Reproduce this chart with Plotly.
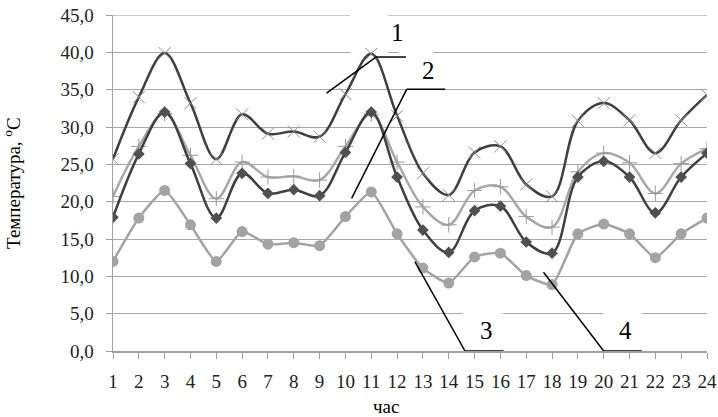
import plotly.graph_objects as go

hours = list(range(1, 25))
hour_labels = [str(h) for h in hours]

# Series 1 (top, x markers)
s1 = [25.7, 34.0, 39.9, 33.2, 25.7, 31.7, 29.1, 29.4, 28.7, 34.4, 39.8, 31.5,
      23.8, 20.9, 26.6, 27.4, 22.3, 20.7, 30.8, 33.2, 30.9, 26.5, 30.9, 34.3]
# Series 2 (light gray, + markers)
s2 = [20.7, 27.4, 31.8, 26.2, 20.4, 25.3, 23.3, 23.4, 22.9, 27.4, 31.7, 25.3,
      19.3, 16.9, 21.5, 22.0, 18.0, 16.6, 24.0, 26.5, 25.2, 21.1, 25.1, 27.1]
# Series 3 (dark, diamond markers)
s3 = [17.9, 26.4, 32.0, 25.1, 17.8, 23.8, 21.1, 21.6, 20.8, 26.6, 32.0, 23.3,
      16.2, 13.2, 18.8, 19.4, 14.6, 13.1, 23.3, 25.4, 23.3, 18.5, 23.3, 26.5]
# Series 4 (light gray, circle markers)
s4 = [12.0, 17.8, 21.5, 16.9, 12.0, 16.0, 14.3, 14.5, 14.1, 18.0, 21.3, 15.7,
      11.1, 9.1, 12.6, 13.1, 10.1, 8.9, 15.7, 17.0, 15.7, 12.5, 15.7, 17.8]

y_ticks = [0, 5, 10, 15, 20, 25, 30, 35, 40, 45]
y_tick_labels = ["0,0", "5,0", "10,0", "15,0", "20,0", "25,0", "30,0", "35,0", "40,0", "45,0"]

series_labels = ["1", "2", "3", "4"]

FONT = "Liberation Serif"
GRID = "#a8a8a8"

fig = go.Figure()

fig.add_trace(go.Scatter(
    x=hours, y=s4, mode="lines+markers",
    line=dict(color="#a3a3a3", width=2.5, shape="spline", smoothing=0.5),
    marker=dict(symbol="circle", size=11, color="#a3a3a3"),
    showlegend=False))
fig.add_trace(go.Scatter(
    x=hours, y=s2, mode="lines+markers",
    line=dict(color="#a8a8a8", width=2.5, shape="spline", smoothing=1),
    marker=dict(symbol="cross-thin", size=11, line=dict(color="#9a9a9a", width=1)),
    showlegend=False))
fig.add_trace(go.Scatter(
    x=hours, y=s3, mode="lines+markers",
    line=dict(color="#3f3f3f", width=2.5, shape="spline", smoothing=1),
    marker=dict(symbol="diamond", size=9, color="#505050"),
    showlegend=False))
fig.add_trace(go.Scatter(
    x=hours, y=s1, mode="lines+markers",
    line=dict(color="#3f3f3f", width=2.5, shape="spline", smoothing=1),
    marker=dict(symbol="x-thin", size=12, line=dict(color="#8c8c8c", width=1)),
    showlegend=False))

# top gridline (plotly omits the grid line at the range end)
fig.add_shape(type="line", xref="paper", x0=0, x1=1, y0=y_ticks[-1], y1=y_ticks[-1],
              line=dict(color="#b4b4b4", width=1.5), layer="between")

# white text boxes covering gridlines
boxes = [(10.18, 11.65, 39.2, 45.6), (12.07, 13.39, 35.6, 40.4),
         (14.55, 16.1, 0.8, 6.8), (19.98, 21.48, 0.8, 6.8)]
for x0, x1, y0, y1 in boxes:
    fig.add_shape(type="rect", x0=x0, x1=x1, y0=y0, y1=y1,
                  fillcolor="white", line=dict(width=0), layer="between")

# leader lines
leaders = [
    [(9.27, 34.55), (11.18, 39.37), (12.34, 39.37)],
    [(10.24, 20.45), (12.37, 35.05), (13.86, 35.05)],
    [(12.69, 11.96), (14.63, 0.0), (16.12, 0.0)],
    [(17.67, 10.54), (20.0, 0.0), (21.48, 0.0)],
]
for pts in leaders:
    for (xa, ya), (xb, yb) in zip(pts[:-1], pts[1:]):
        fig.add_shape(type="line", x0=xa, y0=ya, x1=xb, y1=yb,
                      line=dict(color="black", width=1.5), layer="above")

label_pos = [(12.03, 42.6), (13.2, 37.6), (15.45, 2.72), (20.83, 2.72)]
for txt, (lx, ly) in zip(series_labels, label_pos):
    fig.add_annotation(x=lx, y=ly, text=txt, showarrow=False,
                       font=dict(family=FONT, size=25, color="black"))

fig.add_annotation(xref="paper", yref="paper", x=0, y=0.5, xshift=-101,
                   xanchor="center", yanchor="middle",
                   text="Температура, <sup>o</sup>C", textangle=-90, showarrow=False,
                   font=dict(family=FONT, size=19, color="black"))
fig.add_annotation(xref="paper", yref="paper", x=0.46, y=-0.165,
                   text="час", showarrow=False, xanchor="center", yanchor="middle",
                   font=dict(family=FONT, size=19, color="black"))

fig.update_xaxes(range=[1, 24], tickvals=hours, ticktext=hour_labels,
                 showgrid=False, showline=True, linecolor="#a0a0a0", linewidth=1.5,
                 ticks="outside", ticklen=6, tickcolor="#a0a0a0", tickwidth=1,
                 ticklabelstandoff=7, automargin=False, ticklabeloverflow="allow",
                 tickfont=dict(family=FONT, size=19, color="#222"), zeroline=False)
fig.update_yaxes(range=[0, 45], tickvals=y_ticks, ticktext=y_tick_labels,
                 showgrid=True, gridcolor=GRID, gridwidth=1,
                 showline=True, linecolor="#a0a0a0", linewidth=1.5,
                 ticks="outside", ticklen=6, tickcolor="#a0a0a0",
                 ticklabelstandoff=8, automargin=False, ticklabeloverflow="allow",
                 tickfont=dict(family=FONT, size=19, color="#222"), zeroline=False)

fig.update_layout(width=718, height=417, margin=dict(l=113, r=11, t=15, b=66),
                  plot_bgcolor="white", paper_bgcolor="white")

# remove the default 8px page margin so the figure fills the window exactly
fig.write_html("out.html", config={"displayModeBar": False, "staticPlot": True},
               post_script="document.body.style.margin='0';document.body.style.overflow='hidden';")
